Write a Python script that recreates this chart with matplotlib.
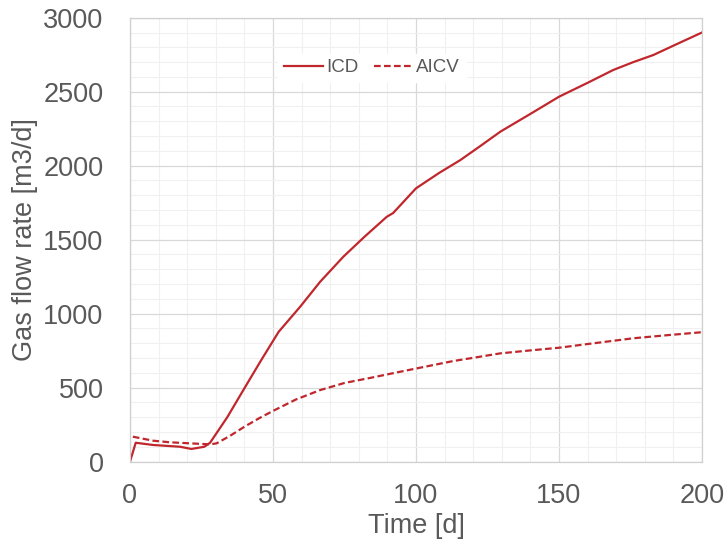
import matplotlib
matplotlib.use("Agg")
import matplotlib.pyplot as plt
from matplotlib.ticker import MultipleLocator

plt.rcParams['font.family'] = ['Liberation Sans', 'DejaVu Sans']

# values
t_icd = [0, 2, 8, 17.5, 21.5, 26, 28, 34, 40, 46, 52, 59.5, 66.5, 74.6, 82, 89.8, 92,
         100, 108, 115.5, 122.5, 129.5, 140, 150, 160, 169, 176, 183, 191, 200]
q_icd = [0, 128, 113, 101, 86, 101, 128, 300, 496, 690, 878, 1047, 1216, 1385, 1520, 1655, 1680,
         1847, 1950, 2038, 2133, 2230, 2350, 2466, 2560, 2647, 2700, 2748, 2820, 2900]

t_aicv = [1, 8, 14, 21, 28, 30.3, 35, 40, 45, 50, 58, 66.5, 75, 85, 94.5, 104, 113, 121,
          129.5, 140, 150, 160, 176, 188, 200]
q_aicv = [169, 142, 131, 124, 117, 124, 175, 236, 292, 343, 420, 484, 532, 570, 608, 645, 680, 705,
          732, 752, 770, 795, 834, 855, 875]

red = '#C0272D'
grey = '#595959'

fig = plt.figure(figsize=(7.27, 5.48), dpi=100)
ax = fig.add_axes([0.1788, 0.1575, 0.7868, 0.8102])

ax.plot(t_icd, q_icd, color=red, lw=1.6, label='ICD')
ax.plot(t_aicv, q_aicv, color=red, lw=1.6, ls=(0, (3, 1.5)), label='AICV')

ax.set_xlim(0, 200)
ax.set_ylim(0, 3000)
ax.xaxis.set_major_locator(MultipleLocator(50))
ax.xaxis.set_minor_locator(MultipleLocator(10))
ax.yaxis.set_major_locator(MultipleLocator(500))
ax.yaxis.set_minor_locator(MultipleLocator(100))
ax.grid(which='major', color='#D9D9D9', lw=0.9)
ax.grid(which='minor', color='#F0F0F0', lw=0.8)
ax.set_axisbelow(True)
ax.tick_params(which='both', length=0)
ax.tick_params(axis='y', pad=19, labelsize=19.5, labelcolor=grey)
ax.tick_params(axis='x', pad=15, labelsize=19.5, labelcolor=grey)
for s in ax.spines.values():
    s.set_color('#D0D0D0')
    s.set_linewidth(0.9)

ax.set_xlabel('Time [d]', fontsize=19.5, color=grey, labelpad=3.5)
ax.set_ylabel('Gas flow rate [m3/d]', fontsize=19.5, color=grey, labelpad=3.5)

leg = ax.legend(loc='center', bbox_to_anchor=(0.423, 0.887), ncol=2, fontsize=13.5,
                frameon=True, fancybox=False, handlelength=2.1, handletextpad=0.15,
                columnspacing=0.85, borderpad=0.3)
leg.get_frame().set_facecolor('white')
leg.get_frame().set_edgecolor('white')
leg.get_frame().set_alpha(1)
for txt in leg.get_texts():
    txt.set_color(grey)

fig.savefig('out.png', dpi=100)
